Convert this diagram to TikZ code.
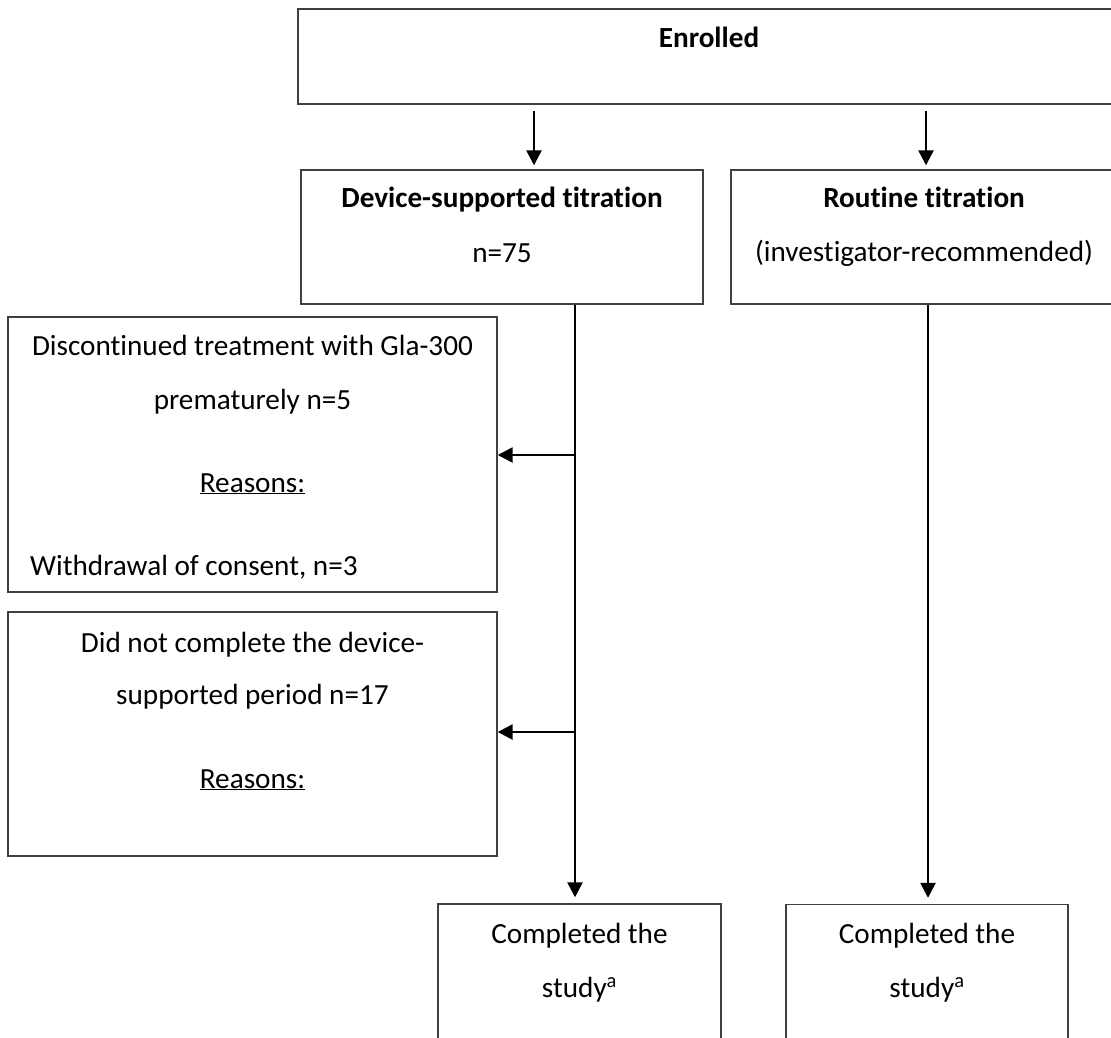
\documentclass[tikz,border=0pt]{standalone}
\usepackage{fontspec}
\setmainfont{Carlito}[Ligatures=NoCommon]
\usetikzlibrary{arrows.meta}
\begin{document}
\begin{tikzpicture}[x=1pt,y=-1pt,
  box/.style={draw=black!75, line width=1.4pt, rectangle, inner sep=0pt},
  conn/.style={draw=black, line width=2.5pt, -{Triangle[length=15pt,width=15pt]}},
  lbl/.style={inner sep=0pt, anchor=base, font=\fontsize{29.2}{35}\selectfont},
  blbl/.style={lbl, font=\fontsize{29.2}{35}\selectfont\bfseries}]
\useasboundingbox (0,0) rectangle (1111,1037);
\fill[white] (0,0) rectangle (1111,1037);
\clip (0,0) rectangle (1111,1037);
% boxes
\node[box, minimum width=822pt, minimum height=95pt] (enr) at (709,56.5) {};
\node[box, minimum width=402pt, minimum height=134pt] (dev) at (502,237) {};
\node[box, minimum width=386pt, minimum height=134pt] (rout) at (924,237) {};
\node[box, minimum width=489pt, minimum height=275pt] (disc) at (252.5,454.5) {};
\node[box, minimum width=489pt, minimum height=244pt] (dnc) at (252.5,734) {};
\node[box, minimum width=283pt, minimum height=156pt] (comp1) at (579.5,982) {};
\node[box, minimum width=282pt, minimum height=156pt] (comp2) at (927,982.5) {};
% texts
\node[blbl] (tenr) at (709,47) {Enrolled};
\node[blbl] (tdev1) at (502,207) {Device-supported titration};
\node[lbl] (tdev2) at (502,262) {n=75};
\node[blbl] (trout1) at (924,207) {Routine titration};
\node[lbl] (trout2) at (924,261) {(investigator-recommended)};
\node[lbl] (tdisc1) at (252.5,355) {Discontinued treatment with Gla-300};
\node[lbl] (tdisc2) at (252.5,409) {prematurely n=5};
\node[lbl] (tdisc3) at (252.5,492) {\underline{Reasons:}};
\node[lbl, anchor=base west] (tdisc4) at (30,575) {Withdrawal of consent, n=3};
\node[lbl] (tdnc1) at (252.5,652) {Did not complete the device-};
\node[lbl] (tdnc2) at (252.5,704) {supported period n=17};
\node[lbl] (tdnc3) at (252.5,788) {\underline{Reasons:}};
\node[lbl] (tc1a) at (579.5,943) {Completed the};
\node[lbl] (tc1b) at (579.5,997) {study\textsuperscript{a}};
\node[lbl] (tc2a) at (927,943) {Completed the};
\node[lbl] (tc2b) at (927,997) {study\textsuperscript{a}};
% connector coordinates
\coordinate (xa) at (534,0);
\coordinate (xb) at (926,0);
\coordinate (xl) at (575,0);
\coordinate (xr) at (928,0);
\coordinate (j1) at (575,455);
\coordinate (j2) at (575,732);
% connectors
\draw[conn, shorten <=6.5pt, shorten >=4pt] (enr.south -| xa) -- (dev.north -| xa);
\draw[conn, shorten <=6.5pt, shorten >=4pt] (enr.south -| xb) -- (rout.north -| xb);
\draw[conn, shorten >=6pt] (dev.south -| xl) -- (comp1.north -| xl);
\draw[conn, shorten >=6pt] (rout.south -| xr) -- (comp2.north -| xr);
\draw[conn] (j1) -- (j1 -| disc.east);
\draw[conn] (j2) -- (j2 -| dnc.east);
\end{tikzpicture}
\end{document}
